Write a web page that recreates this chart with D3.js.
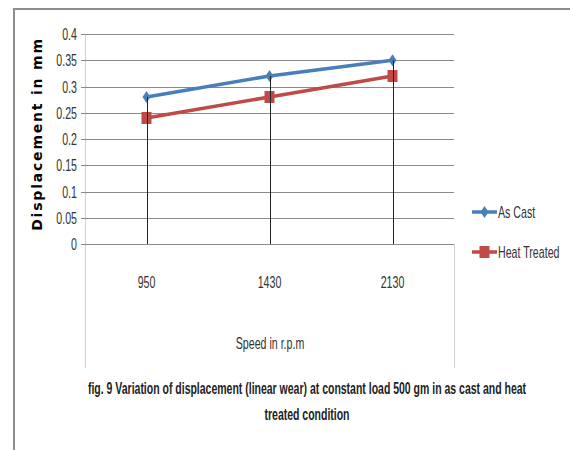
<!DOCTYPE html>
<html lang="en">
<head>
    <meta charset="utf-8">
    <title>Displacement vs speed</title>
    <script type="text/javascript" src="https://cdn.jsdelivr.net/npm/d3@7"></script>
    <style>
        body { margin: 0; background: #fff; }
        text { font-family: "Liberation Sans", sans-serif; }
    </style>
</head>
<body>
<script type="text/javascript">
    var speeds = ["950", "1430", "2130"];
    var asCast = [0.28, 0.32, 0.35];
    var heatTreated = [0.24, 0.28, 0.32];
    var yTicks = [0, 0.05, 0.1, 0.15, 0.2, 0.25, 0.3, 0.35, 0.4];
    var seriesNames = ["As Cast", "Heat Treated"];
    var caption = ["fig. 9 Variation of displacement (linear wear) at constant load 500 gm in as cast and heat",
        "treated condition"];

    var w = 570;
    var h = 450;
    var plotLeft = 85, plotRight = 454, plotTop = 34, plotBottom = 244;
    var squeeze = 0.665;   // no Calibri here, so squash Liberation Sans

    var svg = d3.select("body")
        .append("svg")
        .attr("width", w)
        .attr("height", h);

    // narrow text helper
    function narrow(str, x, y, anchor, size, weight, fill, sx) {
        var g = svg.append("g")
            .attr("transform", "translate(" + x + "," + y + ") scale(" + (sx || squeeze) + ",1)");
        return g.append("text")
            .text(str)
            .attr("text-anchor", anchor)
            .attr("font-size", size + "px")
            .attr("font-weight", weight || "normal")
            .attr("fill", fill || "#333");
    }

    // outer frame (only top and left are visible in the picture)
    svg.append("path")
        .attr("d", "M14,450 L14,9 L570,9")
        .attr("fill", "none")
        .attr("stroke", "#8c8c8c")
        .attr("stroke-width", 2);

    var xScale = d3.scalePoint()
        .domain(speeds)
        .range([plotLeft, plotRight])
        .padding(0.5);
    var yScale = d3.scaleLinear()
        .domain([0, 0.4])
        .range([plotBottom, plotTop]);

    // plot area box below the axis
    svg.append("path")
        .attr("d", "M" + (plotLeft + 0.5) + "," + plotTop + " L" + (plotLeft + 0.5) + ",368 M" +
            (plotRight + 0.5) + "," + plotBottom + " L" + (plotRight + 0.5) + ",368")
        .attr("fill", "none")
        .attr("stroke", "#d0d0d0")
        .attr("stroke-width", 1);

    // gridlines
    svg.selectAll("line.grid")
        .data(yTicks)
        .enter()
        .append("line")
        .attr("class", "grid")
        .attr("x1", plotLeft - 4)
        .attr("x2", plotRight)
        .attr("y1", function(d) { return Math.round(yScale(d)) + 0.5; })
        .attr("y2", function(d) { return Math.round(yScale(d)) + 0.5; })
        .attr("stroke", "#8a8a8a")
        .attr("stroke-width", 1);

    // y tick labels
    yTicks.forEach(function(d) {
        narrow(d, 77, yScale(d) + 6, "end", 16);
    });

    // x tick labels
    speeds.forEach(function(d) {
        narrow(d, xScale(d), 288, "middle", 16);
    });

    narrow("Speed in r.p.m", 270, 349, "middle", 16);

    svg.append("text")
        .text("Displacement in mm")
        .attr("transform", "translate(42,134) rotate(-90)")
        .attr("text-anchor", "middle")
        .style("font-family", "DejaVu Sans")
        .attr("font-weight", "bold")
        .attr("font-size", "14px")
        .attr("letter-spacing", "1.8px")
        .attr("fill", "#000");

    var line = d3.line()
        .x(function(d, i) { return xScale(speeds[i]); })
        .y(function(d) { return yScale(d); });

    var colors = ["#4a7ebb", "#be4b48"];
    var data = [asCast, heatTreated];

    data.forEach(function(vals, k) {
        svg.append("path")
            .attr("d", line(vals))
            .attr("fill", "none")
            .attr("stroke", colors[k])
            .attr("stroke-width", 3.5);
    });

    // markers
    var diamond = "M0,-6 L4,0 L0,6 L-4,0 Z";
    svg.selectAll("path.m0")
        .data(asCast)
        .enter()
        .append("path")
        .attr("class", "m0")
        .attr("d", diamond)
        .attr("transform", function(d, i) { return "translate(" + xScale(speeds[i]) + "," + yScale(d) + ")"; })
        .attr("fill", colors[0]);
    svg.selectAll("rect.m1")
        .data(heatTreated)
        .enter()
        .append("rect")
        .attr("class", "m1")
        .attr("x", function(d, i) { return xScale(speeds[i]) - 5; })
        .attr("y", function(d) { return yScale(d) - 6; })
        .attr("width", 10)
        .attr("height", 12)
        .attr("fill", colors[1]);

    // drop lines
    svg.selectAll("line.drop")
        .data(speeds)
        .enter()
        .append("line")
        .attr("class", "drop")
        .attr("x1", function(d) { return Math.round(xScale(d)) + 0.5; })
        .attr("x2", function(d) { return Math.round(xScale(d)) + 0.5; })
        .attr("y1", function(d, i) { return yScale(Math.max(asCast[i], heatTreated[i])); })
        .attr("y2", plotBottom)
        .attr("stroke", "#222")
        .attr("stroke-width", 1);

    // legend
    seriesNames.forEach(function(name, k) {
        var ly = 212 + k * 40;
        var g = svg.append("g").attr("transform", "translate(472," + ly + ")");
        g.append("line")
            .attr("x1", 0).attr("x2", 25)
            .attr("y1", 0).attr("y2", 0)
            .attr("stroke", colors[k])
            .attr("stroke-width", 3.5);
        if (k === 0) {
            g.append("path").attr("d", diamond).attr("transform", "translate(12.5,0)").attr("fill", colors[0]);
        } else {
            g.append("rect").attr("x", 7.5).attr("y", -6).attr("width", 10).attr("height", 12).attr("fill", colors[1]);
        }
        narrow(name, 498, ly + 6, "start", 16);
    });

    // caption
    caption.forEach(function(d, i) {
        narrow(d, 307, 394 + i * 26, "middle", 16, "bold", "#222", 0.656);
    });
</script>
</body>
</html>
